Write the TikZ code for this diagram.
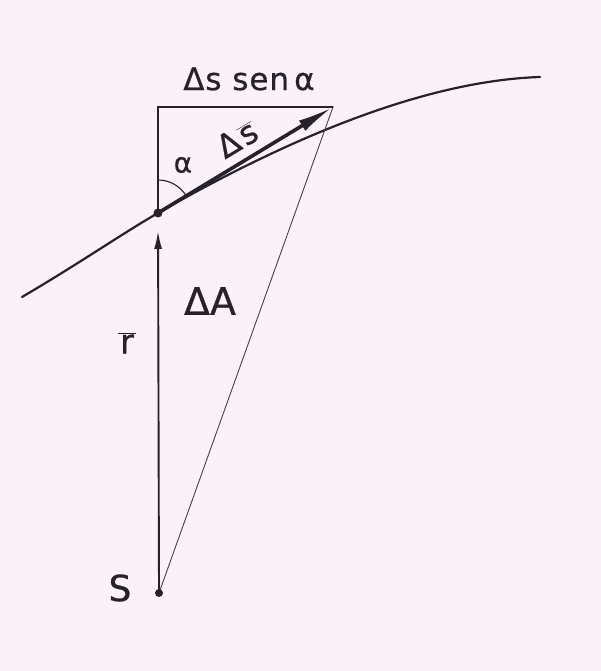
\documentclass[tikz,border=0pt]{standalone}
\usepackage{fontspec}
\setmainfont{DejaVu Sans}[FakeBold=0.6]
\usetikzlibrary{arrows.meta}
\definecolor{bg}{RGB}{251,241,249}
\definecolor{ink}{RGB}{38,33,42}
\tikzset{
  lbl/.style={text=ink, inner sep=0pt},
  curveline/.style={draw=ink, line width=2.2pt},
  thinline/.style={draw=ink, line width=1.1pt},
  slantline/.style={draw=ink!85, line width=0.9pt},
  rline/.style={draw=ink, line width=1.9pt},
  svec/.style={draw=ink, line width=3.6pt},
  dotnode/.style={circle, fill=ink, inner sep=0pt, minimum size=#1},
}
\begin{document}
\begin{tikzpicture}[x=1pt,y=1pt,line cap=round]
\fill[bg] (0,0) rectangle (601,671);
\useasboundingbox (0,0) rectangle (601,671);
\coordinate (S) at (159,78);
\coordinate (P) at (158,458);
\coordinate (C) at (158,564);
\coordinate (T) at (333,564);
\coordinate (O1) at (22,374);
\coordinate (O2) at (540,594);
% curve (orbit)
\draw[curveline] (O1) .. controls (80,408) and (120,436) .. (P)
                      .. controls (280,528) and (420,590) .. (O2);
% triangle sides
\draw[thinline] (P) -- (C) -- (T);
\draw[slantline] (S) -- (T);
% radius vector
\draw[rline, -{Latex[length=18pt,width=8pt]}, shorten >=18pt] (S) -- (P);
% angle arc
\draw[thinline] (P) ++(90:33) arc[start angle=90, end angle=31.3, radius=33];
% displacement vector
\draw[svec, -{Latex[length=36pt,width=12pt]}] (P) -- (T);
% dots
\node[dotnode=9pt] (Pd) at (P) {};
\node[dotnode=8pt] (Sd) at (S) {};
% labels
\node[lbl, font=\fontsize{31}{32}\selectfont\addfontfeature{LetterSpace=3}] (top) at (249,592) {Δs sen\,α};
\node[lbl, font=\fontsize{28}{30}\selectfont] (al) at (183,506) {α};
\node[lbl, font=\fontsize{32}{34}\selectfont, rotate=31] (ds) at (237,532) {Δ\kern3pt$\overline{\hbox{s}}$};
\node[lbl, font=\fontsize{38}{40}\selectfont] (dA) at (210,370) {ΔA};
\node[lbl, font=\fontsize{34}{36}\selectfont] (r) at (127,328) {$\overline{\hbox{\kern2pt r\kern2pt}}$};
\node[lbl, font=\fontsize{36}{38}\selectfont] (Sl) at (120,83) {S};
\end{tikzpicture}
\end{document}
